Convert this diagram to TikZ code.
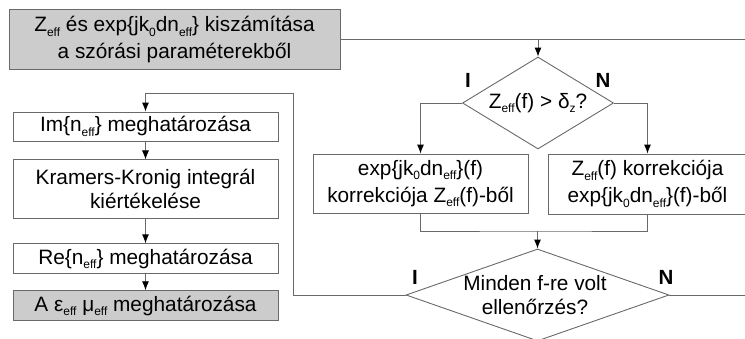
\documentclass[tikz,border=0pt]{standalone}
\usepackage{fontspec}
\setmainfont{Liberation Sans}
\usetikzlibrary{arrows.meta,positioning,shapes.geometric}
\newcommand{\idx}[1]{\raisebox{-4.5pt}{\fontsize{12}{12}\selectfont #1}}
\definecolor{linegray}{RGB}{105,105,105}
\definecolor{boxgray}{RGB}{204,204,204}
\tikzset{box/.style={rectangle,draw=linegray,line width=0.9pt,align=center,inner sep=0pt},
		shaded/.style={box,fill=boxgray},
		decision/.style={diamond,draw=linegray,line width=0.9pt,inner sep=0pt},
		post/.style={-{Latex[length=9pt,width=7pt,black]},draw=linegray,line width=0.9pt},
		link/.style={draw=linegray,line width=0.9pt},
		answer/.style={font=\fontsize{20.5}{24}\selectfont\bfseries}}

\begin{document}
\begin{tikzpicture}[x=1pt,y=-1pt,font=\fontsize{20.8}{27}\selectfont,
		node distance=18pt]
	\useasboundingbox (0,0) rectangle (745,338);
	% start: Z and exp from the S parameters
	\node[shaded,minimum width=331pt,minimum height=60pt] (szoras) at (174.5,39.5) {Z\idx{eff} és exp\{jk\idx{0}dn\idx{eff}\} kiszámítása\\a szórási paraméterekből};
	\coordinate (top-end) at (745,39.5);
	\draw[link] (szoras.east) -- (top-end);

	% first decision
	\node[decision,minimum width=151pt,minimum height=92pt] (check-z) at (538,103) {};
	\node (check-z-text) at (check-z) {Z\idx{eff}(f) > δ\idx{z}?};
	\draw[post] (check-z.north |- top-end) -- (check-z.north);
	\node[answer] (check-z-yes) at (468,80) {I};
	\node[answer] (check-z-no) at (603,80) {N};

	\node[box,minimum width=215pt,minimum height=59pt] (corr-exp) at (420.5,183.5) {exp\{jk\idx{0}dn\idx{eff}\}(f)\\korrekciója Z\idx{eff}(f)-ből};
	\node[box,minimum width=199pt,minimum height=60pt] (corr-z) at (647.5,184) {Z\idx{eff}(f) korrekciója\\exp\{jk\idx{0}dn\idx{eff}\}(f)-ből};
	\draw[post] (check-z.west) -| (corr-exp.north);
	\draw[post] (check-z.east) -| (corr-z.north);

	% second decision
	\coordinate (join) at (537.5,231);
	\node[decision,minimum width=263pt,minimum height=92pt] (all-f) at (537.5,295) {};
	\node[align=center] (all-f-text) at (535,295.5) {Minden f-re volt\\[-3pt]ellenőrzés?};
	\draw[link] (corr-exp.south) |- (join) -| (corr-z.south);
	\draw[post] (join) -- (all-f.north);
	\node[answer] (all-f-yes) at (415,277) {I};
	\node[answer] (all-f-no) at (666,277) {N};
	\coordinate (bottom-end) at (745,295);
	\draw[link] (all-f.east) -- (bottom-end);

	% left column
	\node[box,minimum width=265pt,minimum height=29pt] (im-n) at (145.5,126.5) {Im\{n\idx{eff}\} meghatározása};
	\node[box,minimum width=265pt,minimum height=59pt] (kk) [below=of im-n] {Kramers-Kronig integrál\\[-3pt]kiértékelése};
	\node[box,minimum width=265pt,minimum height=30pt] (re-n) [below=24pt of kk] {Re\{n\idx{eff}\} meghatározása};
	\node[shaded,minimum width=265pt,minimum height=30pt] (eps-mu) [below=16pt of re-n] {A ε\idx{eff} μ\idx{eff} meghatározása};
	\draw[post] (im-n) -- (kk);
	\draw[post] (kk) -- (re-n);
	\draw[post] (re-n) -- (eps-mu);

	\coordinate (loop) at (293,93);
	\draw[post] (all-f.west) -| (loop) -| (im-n.north);
\end{tikzpicture}
\end{document}
